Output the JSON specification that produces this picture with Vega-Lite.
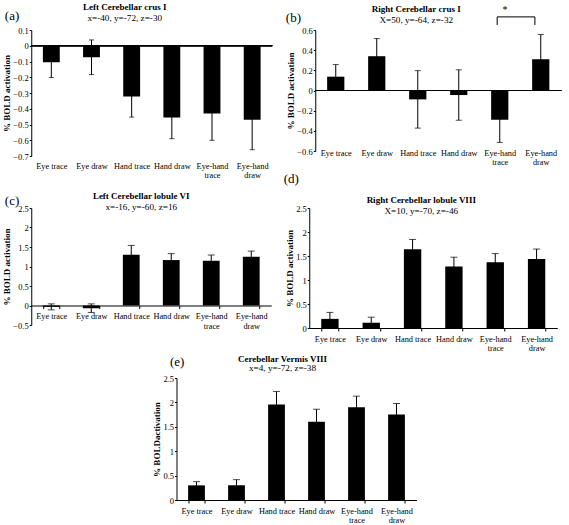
{
  "$schema": "https://vega.github.io/schema/vega-lite/v6.json",
  "padding": {"left": 2, "top": 2, "right": 2, "bottom": 2},
  "datasets": {
    "a": [
      {"cond": "Eye trace", "v": -0.105, "lo": -0.202, "hi": -0.008},
      {"cond": "Eye draw", "v": -0.073, "lo": -0.183, "hi": 0.037},
      {"cond": "Hand trace", "v": -0.323, "lo": -0.453, "hi": -0.193},
      {"cond": "Hand draw", "v": -0.455, "lo": -0.59, "hi": -0.32},
      {"cond": "Eye-hand trace", "v": -0.43, "lo": -0.6, "hi": -0.26},
      {"cond": "Eye-hand draw", "v": -0.47, "lo": -0.66, "hi": -0.28}
    ],
    "b": [
      {"cond": "Eye trace", "v": 0.137, "lo": 0.017, "hi": 0.257},
      {"cond": "Eye draw", "v": 0.34, "lo": 0.165, "hi": 0.515},
      {"cond": "Hand trace", "v": -0.088, "lo": -0.373, "hi": 0.197},
      {"cond": "Hand draw", "v": -0.045, "lo": -0.295, "hi": 0.205},
      {"cond": "Eye-hand trace", "v": -0.29, "lo": -0.515, "hi": -0.065},
      {"cond": "Eye-hand draw", "v": 0.31, "lo": 0.065, "hi": 0.555}
    ],
    "c": [
      {"cond": "Eye trace", "v": -0.035, "lo": -0.112, "hi": 0.042},
      {"cond": "Eye draw", "v": -0.068, "lo": -0.178, "hi": 0.042},
      {"cond": "Hand trace", "v": 1.3, "lo": 1.06, "hi": 1.54},
      {"cond": "Hand draw", "v": 1.165, "lo": 1.0, "hi": 1.33},
      {"cond": "Eye-hand trace", "v": 1.147, "lo": 1.0, "hi": 1.294},
      {"cond": "Eye-hand draw", "v": 1.25, "lo": 1.105, "hi": 1.395}
    ],
    "d": [
      {"cond": "Eye trace", "v": 0.19, "lo": 0.055, "hi": 0.325},
      {"cond": "Eye draw", "v": 0.11, "lo": 0.0, "hi": 0.225},
      {"cond": "Hand trace", "v": 1.64, "lo": 1.435, "hi": 1.845},
      {"cond": "Hand draw", "v": 1.28, "lo": 1.085, "hi": 1.475},
      {"cond": "Eye-hand trace", "v": 1.37, "lo": 1.19, "hi": 1.55},
      {"cond": "Eye-hand draw", "v": 1.44, "lo": 1.235, "hi": 1.645}
    ],
    "e": [
      {"cond": "Eye trace", "v": 0.3, "lo": 0.224, "hi": 0.376},
      {"cond": "Eye draw", "v": 0.3, "lo": 0.183, "hi": 0.417},
      {"cond": "Hand trace", "v": 1.955, "lo": 1.685, "hi": 2.225},
      {"cond": "Hand draw", "v": 1.605, "lo": 1.35, "hi": 1.86},
      {"cond": "Eye-hand trace", "v": 1.9, "lo": 1.672, "hi": 2.128},
      {"cond": "Eye-hand draw", "v": 1.75, "lo": 1.523, "hi": 1.977}
    ],
    "sig": [
      {"c1": "Eye-hand trace", "c2": "Eye-hand draw", "yb": 0.73, "yl": 0.65, "ys": 0.8, "star": "*"}
    ]
  },
  "config": {
    "font": "Liberation Serif",
    "view": {"stroke": null},
    "axis": {"labelFont": "Liberation Serif", "titleFont": "Liberation Serif", "labelColor": "black", "titleColor": "black", "domainColor": "black", "tickColor": "black", "grid": false},
    "axisY": {"tickSize": 2, "labelFontSize": 8.5, "titleFontSize": 9, "titleFontWeight": "bold", "titlePadding": 1, "labelPadding": 1},
    "axisX": {"labelAngle": 0, "title": null, "labelFontSize": 8.3, "labelLineHeight": 9.5, "tickBand": "extent", "tickSize": 3},
    "title": {"font": "Liberation Serif", "fontSize": 9, "fontWeight": "bold", "color": "black", "subtitleFont": "Liberation Serif", "subtitleFontSize": 9.2, "subtitleColor": "black", "subtitlePadding": 2}
  },
  "center": true,
  "spacing": 2,
  "vconcat": [
    {
      "spacing": -7,
      "vconcat": [
        {
          "spacing": 12,
          "hconcat": [
            {
              "title": {"text": "(a)", "anchor": "start", "frame": "bounds", "fontSize": 13, "fontWeight": "normal", "offset": -20, "dx": 2},
              "vconcat": [{
                "width": 241, "height": 126,
                "title": {"text": "Left Cerebellar crus I", "subtitle": "x=-40, y=-72, z=-30", "dx": -27, "offset": 3},
                "data": {"name": "a"},
                "layer": [
                  {"mark": {"type": "rule", "color": "black"}, "encoding": {"x": {"field": "cond", "type": "nominal", "sort": null}, "y": {"field": "lo", "type": "quantitative"}, "y2": {"field": "hi"}}},
                  {"mark": {"type": "tick", "color": "black", "thickness": 1, "size": 5}, "encoding": {"x": {"field": "cond", "type": "nominal", "sort": null}, "y": {"field": "hi", "type": "quantitative"}}},
                  {"mark": {"type": "tick", "color": "black", "thickness": 1, "size": 5}, "encoding": {"x": {"field": "cond", "type": "nominal", "sort": null}, "y": {"field": "lo", "type": "quantitative"}}},
                  {"mark": {"type": "bar", "color": "black"}, "encoding": {"x": {"field": "cond", "type": "nominal", "sort": null, "scale": {"domain": ["Eye trace", "Eye draw", "Hand trace", "Hand draw", "Eye-hand trace", "Eye-hand draw"], "paddingInner": 0.58, "paddingOuter": 0.29}, "axis": {"domain": false, "ticks": false, "labelPadding": 5, "labelExpr": "indexof(datum.label, 'Eye-hand') == 0 ? ['Eye-hand', substring(datum.label, 9)] : datum.label"}}, "y": {"field": "v", "type": "quantitative", "scale": {"domain": [-0.7, 0.1], "nice": false}, "axis": {"title": "% BOLD activation", "tickCount": 30, "labelOverlap": false, "labelFlush": false, "values": [-0.7, -0.6, -0.5, -0.4, -0.3, -0.2, -0.1, 0, 0.1], "format": ".1~f"}}}},
                  {"mark": {"type": "rule", "color": "black"}, "encoding": {"y": {"datum": 0}}}
                ]
              }]
            },
            {
              "title": {"text": "(b)", "anchor": "start", "frame": "bounds", "fontSize": 13, "fontWeight": "normal", "offset": -20, "dx": -1},
              "vconcat": [{
                "width": 246, "height": 121,
                "title": {"text": "Right Cerebellar crus I", "subtitle": "X=50, y=-64, z=-32", "dx": -22, "offset": -20},
                "layer": [
                  {"data": {"name": "b"}, "mark": {"type": "rule", "color": "black"}, "encoding": {"x": {"field": "cond", "type": "nominal", "sort": null}, "y": {"field": "lo", "type": "quantitative"}, "y2": {"field": "hi"}}},
                  {"data": {"name": "b"}, "mark": {"type": "tick", "color": "black", "thickness": 1, "size": 6}, "encoding": {"x": {"field": "cond", "type": "nominal", "sort": null}, "y": {"field": "hi", "type": "quantitative"}}},
                  {"data": {"name": "b"}, "mark": {"type": "tick", "color": "black", "thickness": 1, "size": 6}, "encoding": {"x": {"field": "cond", "type": "nominal", "sort": null}, "y": {"field": "lo", "type": "quantitative"}}},
                  {"data": {"name": "b"}, "mark": {"type": "bar", "color": "black"}, "encoding": {"x": {"field": "cond", "type": "nominal", "sort": null, "scale": {"domain": ["Eye trace", "Eye draw", "Hand trace", "Hand draw", "Eye-hand trace", "Eye-hand draw"], "paddingInner": 0.58, "paddingOuter": 0.29}, "axis": {"domain": false, "ticks": false, "labelPadding": 2, "offset": -5, "labelExpr": "indexof(datum.label, 'Eye-hand') == 0 ? ['Eye-hand', substring(datum.label, 9)] : datum.label"}}, "y": {"field": "v", "type": "quantitative", "scale": {"domain": [-0.6, 0.6], "nice": false}, "axis": {"title": "% BOLD activation", "tickCount": 30, "labelOverlap": false, "labelFlush": false, "values": [-0.6, -0.4, -0.2, 0, 0.2, 0.4, 0.6], "format": ".1~f"}}}},
                  {"data": {"name": "b"}, "mark": {"type": "rule", "color": "black"}, "encoding": {"y": {"datum": 0}}},
                  {"data": {"name": "sig"}, "mark": {"type": "rule", "color": "black"}, "encoding": {"x": {"field": "c1", "type": "nominal", "bandPosition": 0.35}, "x2": {"field": "c2", "bandPosition": 0.16}, "y": {"field": "yb", "type": "quantitative"}}},
                  {"data": {"name": "sig"}, "mark": {"type": "rule", "color": "black"}, "encoding": {"x": {"field": "c1", "type": "nominal", "bandPosition": 0.35}, "y": {"field": "yl", "type": "quantitative"}, "y2": {"field": "yb"}}},
                  {"data": {"name": "sig"}, "mark": {"type": "rule", "color": "black"}, "encoding": {"x": {"field": "c2", "type": "nominal", "bandPosition": 0.16}, "y": {"field": "yl", "type": "quantitative"}, "y2": {"field": "yb"}}},
                  {"data": {"name": "sig"}, "mark": {"type": "text", "color": "black", "fontSize": 10, "baseline": "middle"}, "encoding": {"x": {"field": "c1", "type": "nominal", "bandPosition": 0.8}, "y": {"field": "ys", "type": "quantitative"}, "text": {"field": "star"}}}
                ]
              }]
            }
          ]
        },
        {
          "spacing": 12,
          "hconcat": [
            {
              "title": {"text": "(c)", "anchor": "start", "frame": "bounds", "fontSize": 13, "fontWeight": "normal", "offset": -16, "dx": 2},
              "vconcat": [{
                "width": 240, "height": 117,
                "title": {"text": "Left Cerebellar lobule VI", "subtitle": "x=-16, y=-60, z=16", "dx": -10, "offset": -8},
                "data": {"name": "c"},
                "layer": [
                  {"mark": {"type": "rule", "color": "black"}, "encoding": {"x": {"field": "cond", "type": "nominal", "sort": null}, "y": {"field": "lo", "type": "quantitative"}, "y2": {"field": "hi"}}},
                  {"mark": {"type": "tick", "color": "black", "thickness": 1, "size": 7}, "encoding": {"x": {"field": "cond", "type": "nominal", "sort": null}, "y": {"field": "hi", "type": "quantitative"}}},
                  {"mark": {"type": "tick", "color": "black", "thickness": 1, "size": 7}, "encoding": {"x": {"field": "cond", "type": "nominal", "sort": null}, "y": {"field": "lo", "type": "quantitative"}}},
                  {"mark": {"type": "bar", "color": "black"}, "encoding": {"x": {"field": "cond", "type": "nominal", "sort": null, "scale": {"domain": ["Eye trace", "Eye draw", "Hand trace", "Hand draw", "Eye-hand trace", "Eye-hand draw"], "paddingInner": 0.58, "paddingOuter": 0.29}, "axis": {"offset": -19.5, "labelPadding": 3, "labelExpr": "indexof(datum.label, 'Eye-hand') == 0 ? ['Eye-hand', substring(datum.label, 9)] : datum.label"}}, "y": {"field": "v", "type": "quantitative", "scale": {"domain": [-0.5, 2.5], "nice": false}, "axis": {"title": "% BOLD activation", "tickCount": 30, "labelOverlap": false, "labelFlush": false, "values": [-0.5, 0, 0.5, 1, 1.5, 2, 2.5], "format": ".1~f"}}}}
                ]
              }]
            },
            {
              "title": {"text": "(d)", "anchor": "start", "frame": "bounds", "fontSize": 13, "fontWeight": "normal", "offset": 10, "dx": -2},
              "vconcat": [{
                "width": 248, "height": 120,
                "title": {"text": "Right Cerebellar lobule VIII", "subtitle": "X=10, y=-70, z=-46", "dx": -12, "offset": -12},
                "data": {"name": "d"},
                "layer": [
                  {"mark": {"type": "rule", "color": "black"}, "encoding": {"x": {"field": "cond", "type": "nominal", "sort": null}, "y": {"field": "lo", "type": "quantitative"}, "y2": {"field": "hi"}}},
                  {"mark": {"type": "tick", "color": "black", "thickness": 1, "size": 7}, "encoding": {"x": {"field": "cond", "type": "nominal", "sort": null}, "y": {"field": "hi", "type": "quantitative"}}},
                  {"mark": {"type": "bar", "color": "black"}, "encoding": {"x": {"field": "cond", "type": "nominal", "sort": null, "scale": {"domain": ["Eye trace", "Eye draw", "Hand trace", "Hand draw", "Eye-hand trace", "Eye-hand draw"], "paddingInner": 0.58, "paddingOuter": 0.29}, "axis": {"labelPadding": 3, "labelExpr": "indexof(datum.label, 'Eye-hand') == 0 ? ['Eye-hand', substring(datum.label, 9)] : datum.label"}}, "y": {"field": "v", "type": "quantitative", "scale": {"domain": [0, 2.5], "nice": false}, "axis": {"title": "% BOLD activation", "tickCount": 30, "labelOverlap": false, "labelFlush": false, "values": [0, 0.5, 1, 1.5, 2, 2.5], "format": ".1~f"}}}}
                ]
              }]
            }
          ]
        }
      ]
    },
    {
      "title": {"text": "(e)", "anchor": "start", "frame": "bounds", "fontSize": 13, "fontWeight": "normal", "offset": -14, "dx": 17},
      "vconcat": [{
        "width": 240, "height": 122,
        "title": {"text": "Cerebellar Vermis VIII", "subtitle": "x=4, y=-72, z=-38", "dx": -14, "offset": 1, "subtitlePadding": 0},
        "data": {"name": "e"},
        "layer": [
          {"mark": {"type": "rule", "color": "black"}, "encoding": {"x": {"field": "cond", "type": "nominal", "sort": null}, "y": {"field": "lo", "type": "quantitative"}, "y2": {"field": "hi"}}},
          {"mark": {"type": "tick", "color": "black", "thickness": 1, "size": 7}, "encoding": {"x": {"field": "cond", "type": "nominal", "sort": null}, "y": {"field": "hi", "type": "quantitative"}}},
          {"mark": {"type": "bar", "color": "black"}, "encoding": {"x": {"field": "cond", "type": "nominal", "sort": null, "scale": {"domain": ["Eye trace", "Eye draw", "Hand trace", "Hand draw", "Eye-hand trace", "Eye-hand draw"], "paddingInner": 0.58, "paddingOuter": 0.29}, "axis": {"labelPadding": 3, "labelExpr": "indexof(datum.label, 'Eye-hand') == 0 ? ['Eye-hand', substring(datum.label, 9)] : datum.label"}}, "y": {"field": "v", "type": "quantitative", "scale": {"domain": [0, 2.5], "nice": false}, "axis": {"title": "% BOLDactivation", "tickCount": 30, "labelOverlap": false, "labelFlush": false, "values": [0, 0.5, 1, 1.5, 2, 2.5], "format": ".1~f"}}}}
        ]
      }]
    }
  ]
}
